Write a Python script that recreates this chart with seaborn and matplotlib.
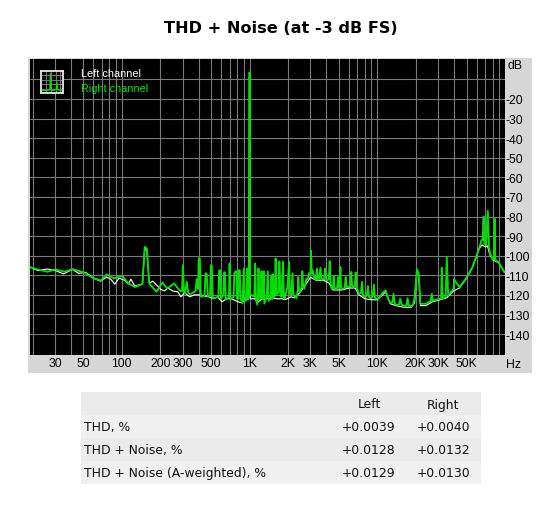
import pandas as pd
import matplotlib
matplotlib.use('Agg')
import matplotlib.pyplot as plt
from matplotlib.patches import Rectangle
from matplotlib.ticker import NullFormatter
import seaborn as sns

# Values, (Hz, dB)
left_curve = [
    (19, -105.8), (22, -107.6), (26, -106.8), (30, -107.5), (35, -109.3), (41, -107), (46, -109), (52, -108.5),
    (60, -111.5), (68, -113), (76, -111), (82, -112), (88, -114.5), (95, -111.5), (105, -112.5), (112, -114.5),
    (118, -112), (126, -115.5), (145, -114.5), (151, -96.5), (157, -97.5), (164, -114), (175, -113), (187, -115),
    (200, -117), (215, -118), (230, -116.5), (250, -118), (275, -118.5), (290, -121), (310, -119), (340, -121),
    (370, -120), (400, -120), (440, -120.5), (480, -121), (520, -122), (560, -121), (610, -123.5), (660, -122),
    (720, -122), (780, -123), (850, -124), (920, -123), (985, -122), (1000, -7.5), (1015, -122), (1100, -122),
    (1150, -124), (1250, -122), (1350, -122), (1500, -121.5), (1650, -122), (1800, -122), (1900, -122.5),
    (2100, -121), (2250, -121.5), (2500, -118.5), (2800, -114), (3000, -111), (3300, -112.5), (3800, -112.5),
    (4200, -114), (4500, -117.5), (5300, -117.5), (6000, -116.5), (6700, -116.5), (7200, -120), (8000, -122),
    (9000, -122.5), (10000, -122.5), (11000, -120), (11600, -118.5), (12600, -124.5), (14000, -125.5),
    (16000, -126.3), (18500, -126.3), (19600, -124), (20400, -108), (21100, -110), (21800, -125.5), (24000, -125.5),
    (27000, -123.5), (31000, -122.5), (35000, -121.5), (39500, -118), (44000, -116.5), (49500, -112), (55700, -106),
    (62700, -96.5), (66000, -94.5), (70000, -95.5), (73000, -95), (76000, -99.5), (80000, -102), (85000, -103),
    (89000, -103.5), (93500, -106), (98900, -108.5),
]

right_curve = [
    (19, -105.8), (21.9, -107), (26.3, -108.2), (30, -107), (35.5, -108.2), (41.2, -106.9), (50.8, -108.6),
    (59, -111.3), (68.5, -112.7), (76.3, -109.6), (87, -111.6), (101, -110.3), (110.7, -113.7), (126, -116),
    (145, -114.5), (151, -95.5), (157, -96.3), (164, -114.2), (187, -118.4), (208, -113.7), (227, -116.7),
    (256, -114.2), (286, -118), (296, -118), (301, -104.8), (306, -118.5), (312, -119.3), (322, -113.3),
    (331, -119), (342, -119.8), (378, -118), (385, -112), (395, -117), (400, -101.4), (408, -101.4), (416, -121),
    (444, -120.5), (452, -109), (462, -109.5), (472, -121), (490, -120.5), (498, -104.8), (506, -105), (516, -121.9),
    (570, -121), (578, -107.5), (588, -107.5), (598, -121.9), (625, -120), (632, -108.5), (642, -108.5), (652, -122.5),
    (690, -121), (698, -104), (706, -121.5), (723, -121.9), (750, -121), (760, -109), (778, -108), (790, -108),
    (800, -122), (815, -122), (826, -107.4), (838, -107.4), (850, -122), (880, -124.4), (903, -106.5), (915, -123),
    (945, -123), (959, -106.5), (972, -122), (992, -120), (1000, -6.5), (1008, -120), (1030, -120), (1090, -121),
    (1107, -104), (1122, -122), (1148, -125), (1162, -122), (1175, -106.5), (1190, -122), (1225, -121), (1240, -108),
    (1255, -122), (1275, -122), (1290, -108), (1305, -124.5), (1345, -122), (1360, -121), (1390, -108), (1410, -123),
    (1470, -122), (1485, -110), (1500, -122), (1515, -122), (1530, -109.6), (1550, -121), (1585, -120), (1600, -101.4),
    (1620, -120), (1680, -119), (1700, -104), (1715, -103), (1745, -120.5), (1780, -121), (1830, -103), (1855, -121),
    (1880, -122), (1980, -116), (2040, -103), (2070, -119.5), (2120, -120), (2170, -109), (2200, -120), (2330, -121.7),
    (2390, -117), (2410, -110.9), (2440, -118), (2500, -118.6), (2560, -116), (2590, -108), (2625, -115), (2690, -116.9),
    (2740, -114), (2790, -111.7), (2870, -112), (2910, -109), (3000, -109), (3030, -97.5), (3060, -109), (3110, -107.4),
    (3220, -111.7), (3300, -112), (3370, -106.6), (3420, -112), (3500, -111.7), (3590, -106.2), (3650, -112),
    (3760, -111.7), (3840, -112), (3900, -106.6), (3970, -112), (4040, -112.6), (4170, -112), (4240, -102.8),
    (4300, -113), (4390, -116.9), (4500, -116.5), (4560, -110.4), (4620, -116.5), (4730, -116.9), (4850, -116.5),
    (4930, -110.9), (5000, -116.5), (5080, -116), (5140, -105.7), (5210, -116.5), (5330, -116.9), (5560, -116.5),
    (5660, -110.9), (5750, -116), (5900, -116), (6160, -115.5), (6260, -108.3), (6350, -115.5), (6530, -115.5),
    (6660, -115.5), (6770, -108.6), (6880, -116), (7190, -119.5), (7450, -119), (7590, -113.4), (7720, -120),
    (8010, -121.2), (8300, -120), (8450, -115.5), (8600, -121), (8920, -121.7), (9200, -121), (9400, -114.8),
    (9600, -121.5), (9940, -122), (10400, -121.2), (11000, -119), (11620, -117.7), (12200, -122), (12630, -124),
    (13100, -124), (13400, -119.5), (13700, -124.5), (14070, -125.1), (14800, -125), (15120, -122), (15500, -125),
    (16060, -125.5), (16900, -125.5), (17260, -121.7), (17600, -125.5), (18450, -125.8), (19100, -125), (19600, -121.2),
    (20450, -106.9), (21100, -109.2), (21700, -124.6), (24100, -124.6), (26200, -123), (26700, -119.5), (27200, -123),
    (30800, -122), (31600, -122), (32000, -106.2), (32500, -122), (34300, -121), (35000, -100.6), (35900, -120.3),
    (39500, -116.9), (40000, -112), (40400, -112.6), (44000, -116), (49500, -111.7), (55700, -105.7), (62700, -96.3),
    (65600, -92), (66800, -92), (68000, -80), (69000, -94), (71000, -94.6), (73300, -77.1), (75000, -96), (76200, -98.9),
    (80000, -101.8), (82000, -101.8), (83000, -81.2), (84000, -102.3), (89000, -103.2), (93500, -105.7), (98900, -108.3),
]

icon_x = [1, 5.2, 5.6, 6, 7, 9, 9.4, 9.8, 12]
icon_db = [-88, -86, -12, -86, -88, -85, -50, -85, -88]

freq_major = [30, 50, 100, 200, 300, 500, 1000, 2000, 3000, 5000, 10000, 20000, 30000, 50000]
freq_major_labels = ['30', '50', '100', '200', '300', '500', '1K', '2K', '3K', '5K', '10K', '20K', '30K', '50K']
freq_minor = [20, 40, 60, 70, 80, 90, 400, 600, 700, 800, 900, 4000, 6000, 7000, 8000, 9000,
              40000, 60000, 70000, 80000, 90000]
db_ticks = [-20, -30, -40, -50, -60, -70, -80, -90, -100, -110, -120, -130, -140]

table_header = ['', 'Left', 'Right']
row_names = ['THD, %', 'THD + Noise, %', 'THD + Noise (A-weighted), %']
left_vals = ['+0.0039', '+0.0128', '+0.0129']
right_vals = ['+0.0040', '+0.0132', '+0.0130']

W, H = 558, 506
sns.set_theme(style='dark')
plt.rcParams['font.family'] = ['DejaVu Sans']

fig = plt.figure(figsize=(W / 100, H / 100), dpi=100, facecolor='white')


def box(x0, y0, x1, y1):
    # pixel box from the top left -> figure fractions
    return [x0 / W, 1 - y1 / H, (x1 - x0) / W, (y1 - y0) / H]


def add_rect(x0, y0, x1, y1, color):
    l, b, w, h = box(x0, y0, x1, y1)
    fig.add_artist(Rectangle((l, b), w, h, transform=fig.transFigure, facecolor=color, edgecolor='none', zorder=-5))


fig.text(280.5 / W, 1 - 28.5 / H, 'THD + Noise (at -3 dB FS)', ha='center', va='center',
         fontsize=11.6, fontweight='bold', color='black')

# gray instrument panel behind the graph
add_rect(28, 59, 532, 374, '#d6d6d6')

ax = fig.add_axes(box(30, 60, 505, 356))
ax.set_facecolor('black')

left_df = pd.DataFrame(left_curve, columns=['freq', 'db'])
right_df = pd.DataFrame(right_curve, columns=['freq', 'db'])
sns.lineplot(data=left_df, x='freq', y='db', color='white', estimator=None, sort=False,
             linewidth=0.8, legend=False, ax=ax, zorder=3)
sns.lineplot(data=right_df, x='freq', y='db', color='#00e000', estimator=None, sort=False,
             linewidth=1.35, legend=False, ax=ax, zorder=4)

ax.set_xscale('log')
ax.set_xlim(19.1, 100000)
ax.set_ylim(-150.7, 0.4)
ax.set_xlabel('')
ax.set_ylabel('')
ax.set_xticks(freq_major)
ax.set_xticklabels(freq_major_labels)
ax.set_xticks(freq_minor, minor=True)
ax.xaxis.set_minor_formatter(NullFormatter())
ax.yaxis.tick_right()
ax.set_yticks(db_ticks)
ax.set_yticklabels([str(v) for v in db_ticks])
ax.set_yticks([-10], minor=True)
ax.tick_params(axis='x', which='both', length=0, pad=1.5, labelsize=8.8, labelcolor='black')
ax.tick_params(axis='y', which='both', length=0, pad=0.2, labelsize=8.8, labelcolor='black')
for lab in ax.get_xticklabels() + ax.get_yticklabels():
    lab.set_fontfamily('Liberation Sans')
ax.grid(True, which='both', color='#7a7a7a', linewidth=0.8)
ax.set_axisbelow(True)
for s in ax.spines.values():
    s.set_visible(False)

fig.text(508 / W, 1 - 66 / H, 'dB', ha='left', va='center', fontsize=8.8, family='Liberation Sans', color='black')
fig.text(506 / W, 1 - 365 / H, 'Hz', ha='left', va='center', fontsize=8.8, family='Liberation Sans', color='black')

fig.text(81 / W, 1 - 74 / H, 'Left channel', color='white', fontsize=7.8, family='Liberation Sans', va='center', zorder=6)
fig.text(81 / W, 1 - 89.5 / H, 'Right channel', color='#00e000', fontsize=7.8, family='Liberation Sans', va='center', zorder=6)

# little graph icon in the corner
icon = fig.add_axes(box(41, 72, 63, 94), zorder=5)
icon.set_facecolor('black')
sns.lineplot(x=icon_x, y=icon_db, color='#00e000', linewidth=0.9, estimator=None, sort=False, ax=icon, legend=False)
icon.set_xlim(0, 13)
icon.set_ylim(-100, 0)
icon.set_xticks([3, 6, 9, 11])
icon.set_yticks([-20, -40, -60, -80])
icon.tick_params(length=0, labelbottom=False, labelleft=False)
icon.grid(True, color='#888888', linewidth=0.6)
icon.set_axisbelow(True)
for s in icon.spines.values():
    s.set_visible(True)
    s.set_color('#e8e8e8')
    s.set_linewidth(1.3)

# results table
row_edges = [393, 416, 439, 462, 485]
row_fill = ['#ebebeb', '#f0f0f0', '#ebebeb', '#f0f0f0']
for i, c in enumerate(row_fill):
    add_rect(81, row_edges[i], 481, row_edges[i + 1], c)
tbl_font = 8.9
fig.text(369 / W, 1 - 405 / H, table_header[1], ha='center', va='center', fontsize=tbl_font, color='#111111')
fig.text(443 / W, 1 - 405 / H, table_header[2], ha='center', va='center', fontsize=tbl_font, color='#111111')
for i in range(len(row_names)):
    y = 1 - (row_edges[i + 1] + 12) / H
    fig.text(84 / W, y, row_names[i], ha='left', va='center', fontsize=tbl_font, color='#111111')
    fig.text(395 / W, y, left_vals[i], ha='right', va='center', fontsize=tbl_font, color='#111111')
    fig.text(470 / W, y, right_vals[i], ha='right', va='center', fontsize=tbl_font, color='#111111')

fig.savefig('out.png', dpi=100, facecolor='white')
